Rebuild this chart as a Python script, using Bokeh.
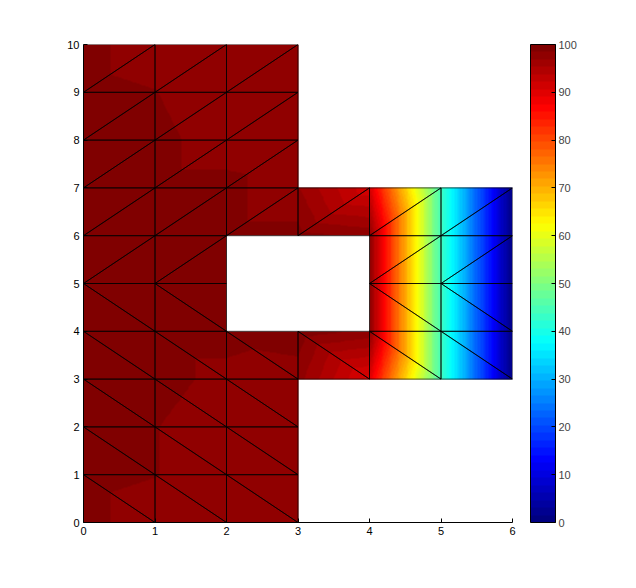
import numpy as np
from bokeh.plotting import figure
from bokeh.models import LinearColorMapper, ColorBar, FixedTicker
from bokeh.embed import file_html
from bokeh.resources import INLINE

# ---------------- data ----------------
# node temperatures, one list per row (y), x from 0 upward; None = no node
node_x = [0, 1, 2, 3, 4, 5, 6]
row_y10 = [99.0, 97.5, 97.0, 97.0, None, None, None]
row_y9 = [99.0, 98.5, 97.0, 97.0, None, None, None]
row_y8 = [99.0, 99.0, 97.5, 97.0, None, None, None]
row_y7 = [99.0, 99.0, 99.0, 97.0, 91.0, 44.0, 1.0]
row_y6 = [99.0, 99.0, 99.0, 99.0, 98.0, 44.0, 1.0]
row_y5 = [99.0, 99.0, 99.0, None, 98.0, 44.0, 1.0]
row_y4 = [99.0, 99.0, 99.0, 99.5, 98.0, 44.0, 1.0]
row_y3 = [99.0, 99.0, 98.0, 97.5, 90.0, 44.0, 1.0]
row_y2 = [99.0, 98.5, 97.5, 97.0, None, None, None]
row_y1 = [99.0, 98.5, 97.5, 97.0, None, None, None]
row_y0 = [99.0, 97.5, 97.0, 97.0, None, None, None]
rows = [row_y0, row_y1, row_y2, row_y3, row_y4, row_y5,
        row_y6, row_y7, row_y8, row_y9, row_y10]

# mesh cells (lower-left corner) and diagonal direction per cell
cells_left_x = [0, 1, 2]
cells_left_y = list(range(10))
hole_cells = [(2, 4), (2, 5), (3, 4), (3, 5)]
cells_right_x = [3, 4, 5]
cells_right_y = [3, 4, 5, 6]
diag_split_y = 5   # rows at/above: "/" ; below: "\"

x_ticks = [0, 1, 2, 3, 4, 5, 6]
y_ticks = [0, 1, 2, 3, 4, 5, 6, 7, 8, 9, 10]
cbar_ticks = [0, 10, 20, 30, 40, 50, 60, 70, 80, 90, 100]
t_low, t_high = 0, 100

# ---------------- build triangles ----------------
cells = [(cx, cy) for cx in cells_left_x for cy in cells_left_y]
cells += [(cx, cy) for cx in cells_right_x for cy in cells_right_y]
cells = [c for c in cells if c not in hole_cells]
cells = sorted(set(cells))

def T(x, y):
    return rows[y][x]

tris = []
for cx, cy in cells:
    a = (cx, cy); b = (cx + 1, cy); c = (cx + 1, cy + 1); d = (cx, cy + 1)
    if cy >= diag_split_y:
        tris.append((a, b, c)); tris.append((a, c, d))
    else:
        tris.append((a, b, d)); tris.append((b, c, d))

# ---------------- interpolate field (Gouraud-like) ----------------
xmin, xmax = min(node_x), max(node_x)
ymin, ymax = 0, len(rows) - 1
h = 0.0125
nx = int(round((xmax - xmin) / h)); ny = int(round((ymax - ymin) / h))
gx = xmin + (np.arange(nx) + 0.5) * h
gy = ymin + (np.arange(ny) + 0.5) * h
GX, GY = np.meshgrid(gx, gy)
Z = np.full((ny, nx), np.nan, dtype=np.float32)
for (p1, p2, p3) in tris:
    (x1, y1), (x2, y2), (x3, y3) = p1, p2, p3
    v1, v2, v3 = T(*p1), T(*p2), T(*p3)
    det = (y2 - y3) * (x1 - x3) + (x3 - x2) * (y1 - y3)
    l1 = ((y2 - y3) * (GX - x3) + (x3 - x2) * (GY - y3)) / det
    l2 = ((y3 - y1) * (GX - x3) + (x1 - x3) * (GY - y3)) / det
    l3 = 1 - l1 - l2
    m = (l1 >= -1e-9) & (l2 >= -1e-9) & (l3 >= -1e-9)
    Z[m] = (l1 * v1 + l2 * v2 + l3 * v3)[m]

# jet palette (64 levels)
def jet(n):
    out = []
    for i in range(n):
        t = i / (n - 1)
        r = min(max(1.5 - abs(4 * t - 3), 0), 1)
        g = min(max(1.5 - abs(4 * t - 2), 0), 1)
        b = min(max(1.5 - abs(4 * t - 1), 0), 1)
        out.append("#%02x%02x%02x" % (int(round(r * 255)), int(round(g * 255)), int(round(b * 255))))
    return out

mapper = LinearColorMapper(palette=jet(64), low=t_low, high=t_high, nan_color=(0, 0, 0, 0))

p = figure(frame_width=429, frame_height=478, x_range=(xmin, xmax), y_range=(ymin, ymax),
           output_backend="svg", toolbar_location=None,
           min_border_left=83, min_border_top=44, min_border_bottom=51, min_border_right=80)
p.image(image=[Z], x=xmin, y=ymin, dw=xmax - xmin, dh=ymax - ymin, color_mapper=mapper)

tx = [[q[0] for q in t] for t in tris]
ty = [[q[1] for q in t] for t in tris]
p.patches(tx, ty, fill_alpha=0, line_color="black", line_width=0.7)

p.grid.visible = False
p.outline_line_color = None
for ax in (p.xaxis, p.yaxis):
    ax.major_tick_in = 4
    ax.major_tick_out = 0
    ax.minor_tick_line_color = None
    ax.axis_line_color = "black"
    ax.major_tick_line_color = "black"
    ax.major_label_text_font = "Liberation Sans"
    ax.major_label_text_font_size = "11px"
    ax.major_label_text_color = "black"
p.xaxis.ticker = FixedTicker(ticks=x_ticks)
p.yaxis.ticker = FixedTicker(ticks=y_ticks)
p.xaxis.major_label_standoff = 4
p.yaxis.major_label_standoff = 4

cb = ColorBar(color_mapper=mapper, ticker=FixedTicker(ticks=cbar_ticks), width=25, height=478,
              padding=0, margin=0, location=(18, 0), bar_line_color="black",
              major_tick_line_color="black",
              major_tick_in=4, major_tick_out=0, label_standoff=3,
              major_label_text_font="Liberation Sans", major_label_text_font_size="11px",
              border_line_color=None, background_fill_alpha=0)
p.add_layout(cb, "right")

open("out.html", "w").write(file_html(p, INLINE))
